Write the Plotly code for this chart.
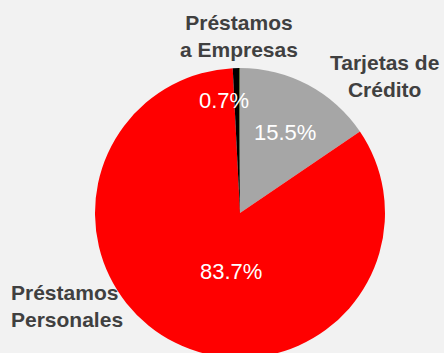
import plotly.graph_objects as go

# Cartera de crédito por producto (%)
categorias = ["Tarjetas de Crédito", "Préstamos Personales", "Préstamos a Empresas", "Otros"]
valores = [15.5, 83.7, 0.7, 0.1]
colores = ["#a6a6a6", "#ff0000", "#000000", "#4f6228"]

W, H = 444, 363  # figure taller than the window so the bottom of the pie is clipped


def px_x(x):
    return x / W


def px_y(y):
    return 1 - y / H


cx, cy, r = 240, 213, 145

fig = go.Figure(
    go.Pie(
        labels=categorias,
        values=valores,
        marker=dict(colors=colores, line=dict(width=0)),
        sort=False,
        direction="clockwise",
        rotation=0,
        textinfo="none",
        hoverinfo="label+percent",
        showlegend=False,
        domain=dict(x=[px_x(cx - r), px_x(cx + r)], y=[px_y(cy + r), px_y(cy - r)]),
    )
)

lbl_font = dict(family="Liberation Sans, Arial, sans-serif", size=21, color="#404040")
pct_font = dict(family="Liberation Sans, Arial, sans-serif", size=22, color="#ffffff")

anns = [
    # category labels
    dict(text="<b>Préstamos</b><br><b>a Empresas</b>", x=px_x(239), y=px_y(36),
         xanchor="center", yanchor="middle", align="center", font=lbl_font),
    dict(text="<b>Tarjetas de</b><br><b>Crédito</b>", x=px_x(384), y=px_y(76),
         xanchor="center", yanchor="middle", align="center", font=lbl_font),
    dict(text="<b>Préstamos</b><br><b>Personales</b>", x=px_x(9), y=px_y(306),
         xanchor="left", yanchor="middle", align="left", font=lbl_font),
    # percentage labels
    dict(text=f"{valores[1]:.1f}%", x=px_x(231), y=px_y(271),
         xanchor="center", yanchor="middle", font=pct_font),
    dict(text=f"{valores[0]:.1f}%", x=px_x(285), y=px_y(132),
         xanchor="center", yanchor="middle", font=pct_font),
    dict(text=f"{valores[2]:.1f}%", x=px_x(224), y=px_y(100),
         xanchor="center", yanchor="middle", font=pct_font),
]
for a in anns:
    a.update(xref="paper", yref="paper", showarrow=False)

fig.update_layout(
    width=W,
    height=H,
    margin=dict(l=0, r=0, t=0, b=0),
    paper_bgcolor="#f2f2f2",
    plot_bgcolor="#f2f2f2",
    annotations=anns,
)

fig.write_html(
    "out.html",
    config={"displayModeBar": False},
    post_script="document.documentElement.style.overflow='hidden';document.body.style.overflow='hidden';document.body.style.margin='0';",
)
